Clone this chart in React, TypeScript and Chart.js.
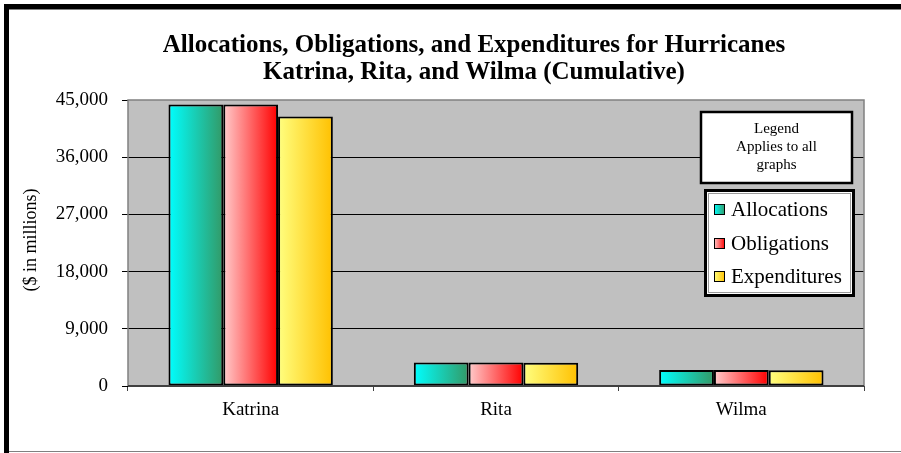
import React, { useEffect, useRef } from "react";
import { Chart, registerables } from "chart.js";

Chart.register(...registerables);

const categories = ["Katrina", "Rita", "Wilma"];
const seriesNames = ["Allocations", "Obligations", "Expenditures"];
const allocations = [44300, 3700, 2500];
const obligations = [44300, 3700, 2500];
const expenditures = [42400, 3650, 2480];
const yTickValues = [0, 9000, 18000, 27000, 36000, 45000];
const titleLines = [
  "Allocations, Obligations, and Expenditures for Hurricanes",
  "Katrina, Rita, and Wilma (Cumulative)",
];
const yAxisTitle = "($ in millions)";
const legendNote = ["Legend", "Applies to all", "graphs"];

const gradientColors: [string, string][] = [
  ["#00FFFF", "#339966"],
  ["#FFCCCC", "#FF0000"],
  ["#FFFF80", "#FFC000"],
];

const SERIF = '"Liberation Serif", "Times New Roman", serif';
const CAT_PCT = 0.67;

function barGradient(ctx: any, di: number) {
  const chart = ctx.chart;
  const xs = chart.scales?.x;
  const c = chart.ctx as CanvasRenderingContext2D;
  if (!xs || !chart.chartArea || ctx.dataIndex === undefined) return gradientColors[di][0];
  const center = xs.getPixelForValue(ctx.dataIndex);
  const catW = xs.width / categories.length;
  const groupW = catW * CAT_PCT;
  const barW = groupW / 3;
  const left = center - groupW / 2 + di * barW;
  const g = c.createLinearGradient(left, 0, left + barW, 0);
  g.addColorStop(0, gradientColors[di][0]);
  g.addColorStop(1, gradientColors[di][1]);
  return g;
}

const decorPlugin = {
  id: "decor",
  beforeDraw(chart: any) {
    const { ctx, chartArea: a } = chart;
    ctx.save();
    ctx.fillStyle = "#FFFFFF";
    ctx.fillRect(0, 0, chart.width, chart.height);
    ctx.fillStyle = "#C0C0C0";
    ctx.fillRect(a.left, a.top, a.right - a.left, a.bottom - a.top);
    ctx.restore();
  },
  afterDatasetsDraw(chart: any) {
    const { ctx, chartArea: a } = chart;
    ctx.save();
    ctx.strokeStyle = "#808080";
    ctx.lineWidth = 1.5;
    ctx.beginPath();
    ctx.moveTo(a.left, a.bottom);
    ctx.lineTo(a.left, a.top);
    ctx.lineTo(a.right, a.top);
    ctx.lineTo(a.right, a.bottom);
    ctx.stroke();
    ctx.strokeStyle = "#404040";
    ctx.lineWidth = 2;
    ctx.beginPath();
    ctx.moveTo(a.left, a.bottom);
    ctx.lineTo(a.right, a.bottom);
    ctx.stroke();
    ctx.restore();
  },
  afterDraw(chart: any) {
    const ctx = chart.ctx as CanvasRenderingContext2D;
    ctx.save();
    // Title
    ctx.fillStyle = "#000";
    ctx.textAlign = "center";
    ctx.textBaseline = "alphabetic";
    ctx.font = `bold 25px ${SERIF}`;
    ctx.fillText(titleLines[0], 474, 52);
    ctx.fillText(titleLines[1], 474, 79);

    // Y axis title
    ctx.save();
    ctx.translate(31, 240);
    ctx.rotate(-Math.PI / 2);
    ctx.font = `18px ${SERIF}`;
    ctx.textBaseline = "middle";
    ctx.fillText(yAxisTitle, 0, 0);
    ctx.restore();

    // Legend note box
    ctx.fillStyle = "#FFFFFF";
    ctx.fillRect(701, 112, 151, 71);
    ctx.strokeStyle = "#000";
    ctx.lineWidth = 2.5;
    ctx.strokeRect(701, 112, 151, 71);
    ctx.fillStyle = "#000";
    ctx.font = `15px ${SERIF}`;
    ctx.textBaseline = "middle";
    ctx.fillText(legendNote[0], 776.5, 129);
    ctx.fillText(legendNote[1], 776.5, 147);
    ctx.fillText(legendNote[2], 776.5, 165);

    // Legend box
    ctx.fillStyle = "#FFFFFF";
    ctx.fillRect(704, 189, 151, 108);
    ctx.strokeStyle = "#000";
    ctx.lineWidth = 3;
    ctx.strokeRect(705.5, 190.5, 148, 105);
    ctx.strokeStyle = "#9A9A9A";
    ctx.lineWidth = 1;
    ctx.strokeRect(708.5, 193.5, 142, 99);

    const ys = [209, 243, 276];
    ctx.textAlign = "left";
    ctx.font = `21px ${SERIF}`;
    seriesNames.forEach((name, i) => {
      const g = ctx.createLinearGradient(714, 0, 725, 0);
      g.addColorStop(0, gradientColors[i][0]);
      g.addColorStop(1, gradientColors[i][1]);
      ctx.fillStyle = g;
      ctx.fillRect(714, ys[i] - 5, 11, 11);
      ctx.strokeStyle = "#000";
      ctx.lineWidth = 1;
      ctx.strokeRect(714.5, ys[i] - 4.5, 10, 10);
      ctx.fillStyle = "#000";
      ctx.fillText(name, 731, ys[i] + 1);
    });

    // Outer frame
    ctx.fillStyle = "#000";
    ctx.fillRect(4, 4, chart.width - 4, 5);
    ctx.fillRect(4, 4, 5, chart.height - 4);
    ctx.fillStyle = "#808080";
    ctx.fillRect(9, 9, chart.width - 9, 1);
    ctx.fillRect(9, 451, chart.width - 9, 1);
    ctx.restore();
  },
};

export default function App() {
  const ref = useRef<HTMLCanvasElement | null>(null);

  useEffect(() => {
    document.body.style.margin = "0";
    const canvas = ref.current;
    if (!canvas) return;
    const data = [allocations, obligations, expenditures];
    const chart = new Chart(canvas, {
      type: "bar",
      data: {
        labels: categories,
        datasets: seriesNames.map((name, di) => ({
          label: name,
          data: data[di],
          backgroundColor: (ctx: any) => barGradient(ctx, di),
          borderColor: "#000000",
          borderWidth: 2,
          borderSkipped: false,
          categoryPercentage: CAT_PCT,
          barPercentage: 1,
        })),
      },
      options: {
        responsive: false,
        animation: false,
        devicePixelRatio: 1,
        layout: { padding: { left: 0, right: 37, top: 100, bottom: 0 } },
        plugins: {
          legend: { display: false },
          title: { display: false },
          tooltip: { enabled: false },
        },
        scales: {
          x: {
            afterFit: (s: any) => {
              s.height = 67;
            },
            offset: true,
            grid: {
              offset: true,
              drawOnChartArea: false,
              drawTicks: true,
              tickLength: 5,
              color: "#404040",
              tickColor: "#404040",
            },
            border: { display: false },
            ticks: {
              color: "#000",
              padding: 8,
              font: { family: SERIF, size: 19 },
            },
          },
          y: {
            min: 0,
            max: 45000,
            afterFit: (s: any) => {
              s.width = 128;
            },
            afterBuildTicks: (s: any) => {
              s.ticks = yTickValues.map((v) => ({ value: v }));
            },
            grid: {
              color: (c: any) =>
                c.tick && (c.tick.value === 45000 || c.tick.value === 0) ? "rgba(0,0,0,0)" : "#000000",
              tickColor: "#000000",
              tickLength: 6,
              lineWidth: 1,
            },
            border: { display: false },
            ticks: {
              color: "#000",
              padding: 14,
              font: { family: SERIF, size: 19 },
              callback: (v: any) => Number(v).toLocaleString("en-US"),
            },
          },
        },
      },
      plugins: [decorPlugin],
    });
    return () => chart.destroy();
  }, []);

  return (
    <div style={{ position: "absolute", left: 0, top: 0, width: 901, height: 453 }}>
      <canvas ref={ref} width={901} height={453} style={{ width: 901, height: 453 }} />
    </div>
  );
}
